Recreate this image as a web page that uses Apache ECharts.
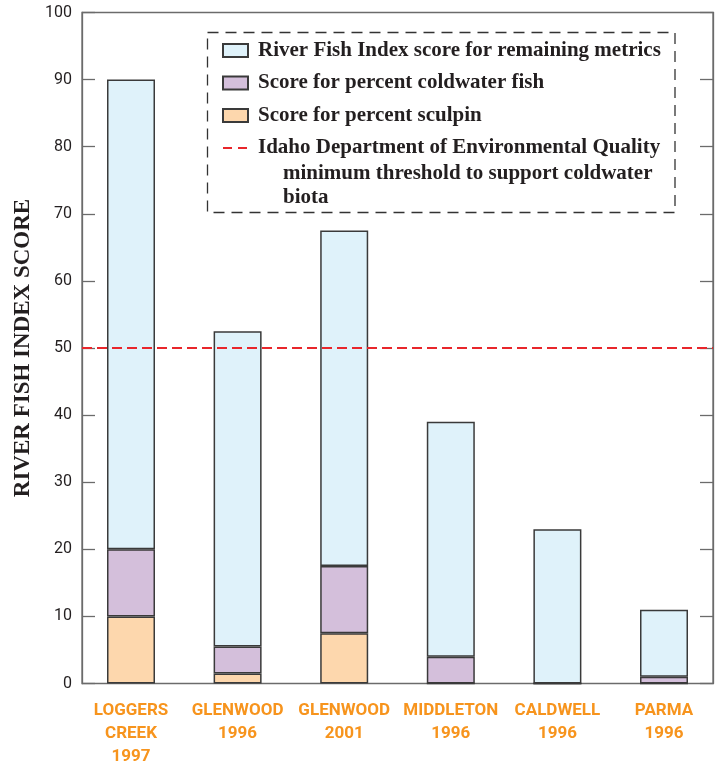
<!DOCTYPE html>
<html>
<head>
<meta charset="utf-8">
<script src="https://cdn.jsdelivr.net/npm/echarts@6/dist/echarts.min.js"></script>
<style>
  html, body { margin: 0; padding: 0; background: #fff; }
  #chart { width: 716px; height: 765px; }
</style>
</head>
<body>
<div id="chart"></div>
<script>
// sites along the river
const sites = ['LOGGERS\nCREEK\n1997', 'GLENWOOD\n1996', 'GLENWOOD\n2001', 'MIDDLETON\n1996', 'CALDWELL\n1996', 'PARMA\n1996']
// stacked score parts (bottom to top)
const sculpinScore = [10, 1.5, 7.5, 0, 0, 0]
const coldwaterScore = [10, 4, 10, 4, 0, 1]
const remainingScore = [70, 47, 50, 35, 23, 10]
const threshold = 50
const yTicks = { min: 0, max: 100, interval: 10 }

const names = {
  remaining: 'River Fish Index score for remaining metrics',
  coldwater: 'Score for percent coldwater fish',
  sculpin: 'Score for percent sculpin',
  idaho: 'Idaho Department of Environmental Quality'
}
const idahoMore = ['minimum threshold to support coldwater', 'biota']

const textColor = '#231f20'
const frameColor = '#6b6b6b'
const red = '#e8262b'
const barBorder = { borderColor: '#3a3a3a', borderWidth: 1.5 }

const chart = echarts.init(document.getElementById('chart'))

const option = {
  animation: false,
  grid: [
    // frame + y axes
    { left: 82, right: 3, top: 12.5, bottom: 81.5, show: true, borderColor: frameColor, borderWidth: 1.3, outerBoundsMode: 'none' },
    // bars (slightly wider band so bars sit like the original)
    { left: 77.7, width: 639.6, top: 12.5, bottom: 81.5, outerBoundsMode: 'none' }
  ],
  xAxis: [
    { gridIndex: 0, type: 'category', data: sites, show: false },
    {
      gridIndex: 1,
      type: 'category',
      data: sites,
      axisLine: { show: false },
      axisTick: { show: false },
      axisLabel: {
        interval: 0,
        margin: 16,
        color: '#f7941d',
        fontFamily: 'Roboto',
        fontWeight: 'bold',
        fontSize: 17,
        lineHeight: 23
      }
    }
  ],
  yAxis: [
    {
      gridIndex: 0,
      type: 'value',
      ...yTicks,
      name: 'RIVER FISH INDEX SCORE',
      nameLocation: 'middle',
      nameGap: 42,
      nameTextStyle: { fontFamily: 'Liberation Serif', fontWeight: 'bold', fontSize: 23, color: textColor },
      axisLine: { show: true, lineStyle: { color: frameColor, width: 1.3 } },
      axisTick: { show: true, inside: true, length: 13, lineStyle: { color: frameColor, width: 1.3 } },
      axisLabel: { margin: 10, color: textColor, fontFamily: 'Roboto', fontSize: 16 },
      splitLine: { show: false }
    },
    {
      gridIndex: 0,
      type: 'value',
      position: 'right',
      ...yTicks,
      axisLine: { show: true, lineStyle: { color: frameColor, width: 1.3 } },
      axisTick: { show: true, inside: true, length: 13, lineStyle: { color: frameColor, width: 1.3 } },
      axisLabel: { show: false },
      splitLine: { show: false }
    },
    { gridIndex: 1, type: 'value', ...yTicks, show: false }
  ],
  legend: {
    orient: 'vertical',
    left: 217,
    top: 33.5,
    itemWidth: 25,
    itemHeight: 13,
    itemGap: 8.5,
    data: [
      { name: names.remaining, icon: 'rect' },
      { name: names.coldwater, icon: 'rect' },
      { name: names.sculpin, icon: 'rect' },
      // dashed line only, hide the symbol dot
      { name: names.idaho, itemStyle: { opacity: 0 } }
    ],
    textStyle: {
      fontFamily: 'Liberation Serif',
      fontWeight: 'bold',
      fontSize: 21,
      lineHeight: 24,
      color: textColor,
      padding: [0, 0, 0, 5]
    }
  },
  graphic: [
    {
      type: 'rect',
      shape: { x: 207.5, y: 32.5, width: 467.5, height: 180 },
      style: { fill: 'none', stroke: '#333', lineWidth: 1.3, lineDash: [11, 7] },
      z: 10
    },
    {
      type: 'text',
      left: 283, top: 161,
      style: { text: idahoMore.join('\n'), font: 'bold 21px "Liberation Serif"', lineHeight: 24.5, fill: textColor },
      z: 10
    }
  ],
  series: [
    {
      name: names.sculpin, type: 'bar', stack: 'score', xAxisIndex: 1, yAxisIndex: 2,
      barWidth: 48, data: sculpinScore,
      itemStyle: { color: '#fdd7ad', ...barBorder }
    },
    {
      name: names.coldwater, type: 'bar', stack: 'score', xAxisIndex: 1, yAxisIndex: 2,
      barWidth: 48, data: coldwaterScore,
      itemStyle: { color: '#d4bfdb', ...barBorder }
    },
    {
      name: names.remaining, type: 'bar', stack: 'score', xAxisIndex: 1, yAxisIndex: 2,
      barWidth: 48, data: remainingScore,
      itemStyle: { color: '#dff2fa', ...barBorder }
    },
    {
      name: names.idaho, type: 'line', xAxisIndex: 0, yAxisIndex: 0,
      data: [], symbol: 'none',
      itemStyle: { color: red },
      lineStyle: { color: red, width: 2, type: [9, 6] },
      markLine: {
        silent: true,
        symbol: ['none', 'none'],
        label: { show: false },
        lineStyle: { color: red, width: 2, type: [10, 5] },
        data: [{ yAxis: threshold }]
      },
      z: 5
    }
  ]
}

chart.setOption(option)
</script>
</body>
</html>
